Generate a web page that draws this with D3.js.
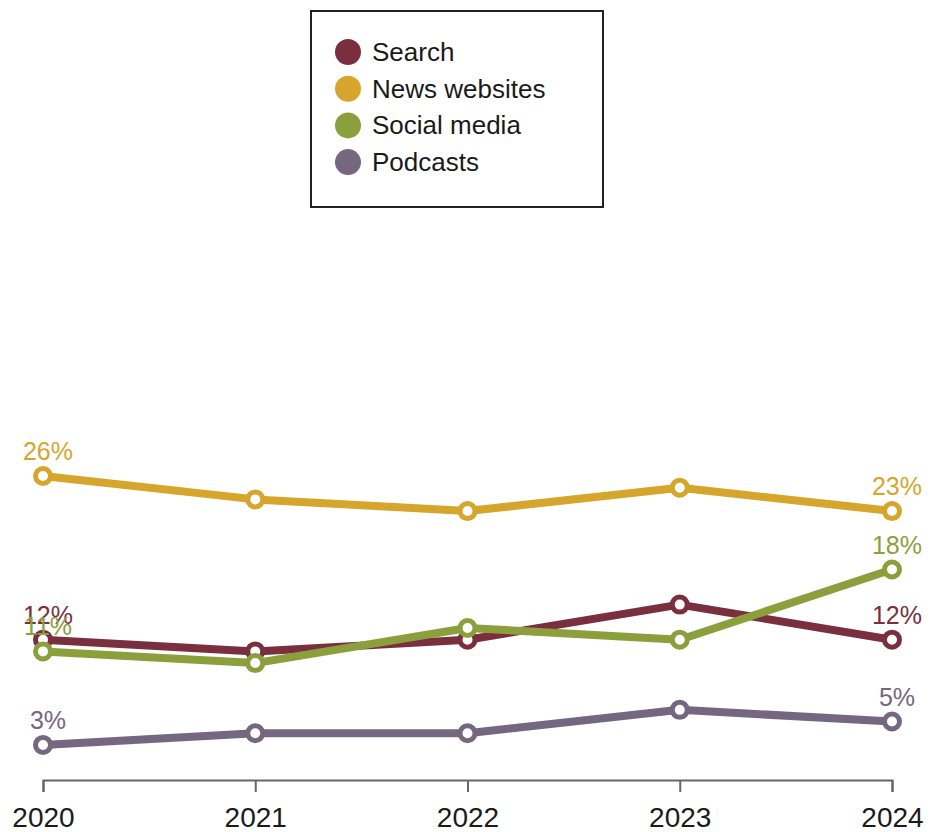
<!DOCTYPE html>
<html>
<head>
<meta charset="utf-8">
<script src="https://cdn.jsdelivr.net/npm/d3@7"></script>
<style>
  html, body { margin: 0; padding: 0; background: #fff; }
  svg { display: block; }
</style>
</head>
<body>
<svg id="chart" width="930" height="832"></svg>
<script>
// Share of respondents by news source, 2020-2024
const years = [2020, 2021, 2022, 2023, 2024];
const seriesNames = ["Search", "News websites", "Social media", "Podcasts"];
const searchValues = [12, 11, 12, 15, 12];
const newsValues = [26, 24, 23, 25, 23];
const socialValues = [11, 10, 13, 12, 18];
const podcastValues = [3, 4, 4, 6, 5];
const seriesColors = ["#7a2f3e", "#d6a62c", "#8c9f3d", "#75677f"];

const series = [
  { name: seriesNames[0], values: searchValues, color: seriesColors[0] },
  { name: seriesNames[1], values: newsValues, color: seriesColors[1] },
  { name: seriesNames[2], values: socialValues, color: seriesColors[2] },
  { name: seriesNames[3], values: podcastValues, color: seriesColors[3] }
];

const svg = d3.select("#chart");
const labelFont = "'Liberation Sans', Arial, sans-serif";

const x = d3.scalePoint().domain(years).range([43, 892]);
const y = d3.scaleLinear().domain([0, 26]).range([780, 476]);

// Legend box
const legend = svg.append("g");
legend.append("rect")
  .attr("x", 311).attr("y", 11).attr("width", 292).attr("height", 196)
  .attr("fill", "#fff").attr("stroke", "#222").attr("stroke-width", 2);
series.forEach((s, i) => {
  const cy = 52 + i * 36.7;
  legend.append("circle").attr("cx", 348).attr("cy", cy).attr("r", 13).attr("fill", s.color);
  legend.append("text").attr("x", 372).attr("y", cy + 9)
    .attr("font-family", labelFont).attr("font-size", 26).attr("fill", "#1a1a1a")
    .text(s.name);
});

// X axis
const axis = svg.append("g")
  .attr("transform", `translate(0,780)`)
  .call(d3.axisBottom(x).tickSize(12).tickPadding(15).tickFormat(d => String(d)));
axis.select(".domain").attr("stroke", "#666").attr("stroke-width", 2);
axis.selectAll(".tick line").attr("stroke", "#666").attr("stroke-width", 2);
axis.selectAll(".tick text")
  .attr("font-family", labelFont).attr("font-size", 28).attr("fill", "#1a1a1a");

// Lines
const line = d3.line().x((d, i) => x(years[i])).y(d => y(d));
const lines = svg.append("g");
series.forEach(s => {
  lines.append("path")
    .datum(s.values)
    .attr("d", line)
    .attr("fill", "none")
    .attr("stroke", s.color)
    .attr("stroke-width", 8)
    .attr("stroke-linejoin", "round");
});

// Points (hollow markers)
series.forEach(s => {
  lines.selectAll(null)
    .data(s.values)
    .enter().append("circle")
    .attr("cx", (d, i) => x(years[i]))
    .attr("cy", d => y(d))
    .attr("r", 7.5)
    .attr("fill", "#fff")
    .attr("stroke", s.color)
    .attr("stroke-width", 5);
});

// Value labels at first and last year
series.forEach(s => {
  [0, years.length - 1].forEach(i => {
    svg.append("text")
      .attr("x", x(years[i]) + 5)
      .attr("y", y(s.values[i]) - 16)
      .attr("text-anchor", "middle")
      .attr("font-family", labelFont)
      .attr("font-size", 25)
      .attr("fill", s.color)
      .text(s.values[i] + "%");
  });
});
</script>
</body>
</html>
